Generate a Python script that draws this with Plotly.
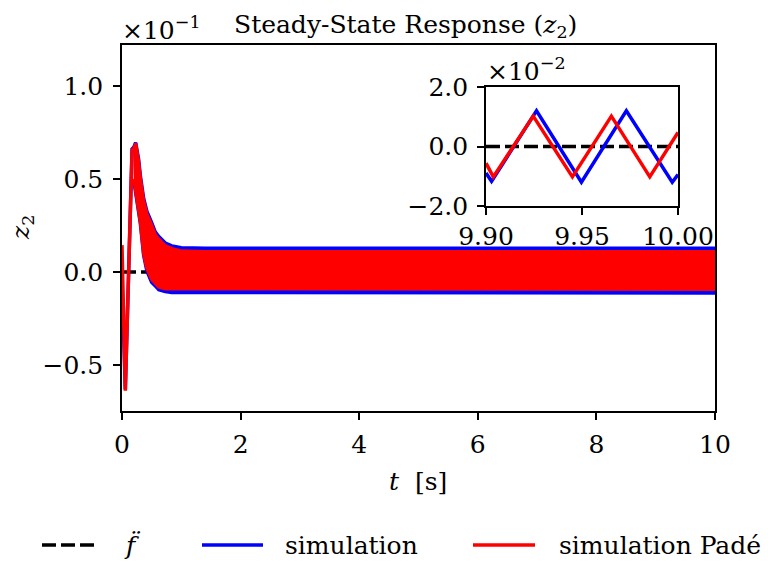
import numpy as np
import plotly.graph_objects as go

SCALE_MAIN = 1e-1
SCALE_INSET = 1e-2

# reference f'' (zero)
ref_t = [0.0, 10.0]
ref_z = [0.0, 0.0]

# initial transient (physical units)
blue_tr_t = [0.0, 0.056, 0.17, 0.20]
blue_tr_z = [-0.0050, -0.0630, 0.0660, 0.0670]
red_tr_t = [0.0, 0.056, 0.17, 0.20]
red_tr_z = [0.0144, -0.0638, 0.0655, 0.0660]

# oscillation envelopes (physical units)
env_t = [0.20, 0.23, 0.28, 0.31, 0.365, 0.42, 0.50, 0.56, 0.62, 0.73, 0.84, 1.0, 1.4, 10.0]
blue_up = [0.0670, 0.0695, 0.0605, 0.0515, 0.0395, 0.0325, 0.0265, 0.0215, 0.0190, 0.0155, 0.0140, 0.0130, 0.0127, 0.0127]
blue_lo = [0.0490, 0.0410, 0.0320, 0.0260, 0.0090, 0.0005, -0.0055, -0.0075, -0.0095, -0.0105, -0.0110, -0.0113, -0.0113, -0.0113]
red_up = [0.0660, 0.0690, 0.0590, 0.0500, 0.0380, 0.0310, 0.0250, 0.0200, 0.0175, 0.0140, 0.0125, 0.0112, 0.0108, 0.0108]
red_lo = [0.0500, 0.0420, 0.0330, 0.0270, 0.0100, 0.0020, -0.0040, -0.0060, -0.0080, -0.0090, -0.0093, -0.0093, -0.0093, -0.0093]

# steady-state detail (inset), physical units
inset_ref_t = [9.90, 10.00]
inset_ref_z = [0.0, 0.0]
blue_in_t = [9.900, 9.9029, 9.9263, 9.9497, 9.9731, 9.9970, 10.000]
blue_in_z = [-0.0089, -0.0117, 0.0120, -0.0120, 0.0120, -0.0120, -0.0094]
red_in_t = [9.900, 9.9038, 9.9246, 9.9450, 9.9653, 9.9853, 10.000]
red_in_z = [-0.0056, -0.0102, 0.0102, -0.0102, 0.0102, -0.0102, 0.0047]

main_xticks = [0, 2, 4, 6, 8, 10]
main_yticks = [-0.5, 0.0, 0.5, 1.0]
inset_xticks = [9.90, 9.95, 10.00]
inset_yticks = [-2.0, 0.0, 2.0]

BLUE = "#0000ff"
RED = "#ff0000"
FONT = "DejaVu Serif, Liberation Serif, serif"
FS = 25
LW = 3.5

fig = go.Figure()

def band(t, up, lo):
    xs = list(t) + list(t)[::-1]
    ys = list(np.array(up) / SCALE_MAIN) + list(np.array(lo)[::-1] / SCALE_MAIN)
    return xs, ys

# main axes
fig.add_trace(go.Scatter(x=ref_t, y=np.array(ref_z) / SCALE_MAIN, mode="lines",
                         line=dict(color="black", width=LW, dash="14px,5px"),
                         showlegend=False, xaxis="x", yaxis="y"))
fig.add_trace(go.Scatter(x=blue_tr_t, y=np.array(blue_tr_z) / SCALE_MAIN, mode="lines",
                         line=dict(color=BLUE, width=LW), showlegend=False))
bx, by = band(env_t, blue_up, blue_lo)
fig.add_trace(go.Scatter(x=bx, y=by, mode="lines", fill="toself", fillcolor=BLUE,
                         line=dict(color=BLUE, width=LW), showlegend=False))
fig.add_trace(go.Scatter(x=red_tr_t, y=np.array(red_tr_z) / SCALE_MAIN, mode="lines",
                         line=dict(color=RED, width=LW), showlegend=False))
rx, ry = band(env_t, red_up, red_lo)
fig.add_trace(go.Scatter(x=rx, y=ry, mode="lines", fill="toself", fillcolor=RED,
                         line=dict(color=RED, width=LW), showlegend=False))

# inset
fig.add_trace(go.Scatter(x=inset_ref_t, y=np.array(inset_ref_z) / SCALE_INSET, mode="lines",
                         line=dict(color="black", width=LW, dash="14px,5px"),
                         showlegend=False, xaxis="x2", yaxis="y2"))
fig.add_trace(go.Scatter(x=blue_in_t, y=np.array(blue_in_z) / SCALE_INSET, mode="lines",
                         line=dict(color=BLUE, width=LW), showlegend=False, xaxis="x2", yaxis="y2"))
fig.add_trace(go.Scatter(x=red_in_t, y=np.array(red_in_z) / SCALE_INSET, mode="lines",
                         line=dict(color=RED, width=LW), showlegend=False, xaxis="x2", yaxis="y2"))

ML, MR, MT, MB = 122, 53, 45, 154
W, H = 768, 565
PW, PH = W - ML - MR, H - MT - MB

def px(xp):
    return (xp - ML) / PW

def py(yp):
    return (H - MB - yp) / PH

axis_common = dict(showline=True, linecolor="black", linewidth=1.6, mirror=True,
                   ticks="outside", ticklen=7, tickwidth=1.6, tickcolor="black",
                   showgrid=False, zeroline=False,
                   tickfont=dict(family=FONT, size=FS, color="black"))

fig.update_layout(
    width=W, height=H,
    margin=dict(l=ML, r=MR, t=MT, b=MB, pad=0),
    paper_bgcolor="white", plot_bgcolor="white",
    showlegend=False,
    xaxis=dict(range=[0, 10], tickvals=main_xticks, ticktext=[str(v) for v in main_xticks],
               domain=[0, 1], anchor="y", ticklabelstandoff=3, **axis_common),
    yaxis=dict(range=[-0.747, 1.219], tickvals=main_yticks,
               ticktext=[("\u2212" if v < 0 else "") + f"{abs(v):.1f}" for v in main_yticks],
               domain=[0, 1], anchor="x", ticklabelstandoff=5, **axis_common),
    xaxis2=dict(range=[9.90, 10.00], tickvals=inset_xticks,
                ticktext=[f"{v:.2f}" for v in inset_xticks],
                domain=[px(486), px(678)], anchor="y2", **axis_common),
    yaxis2=dict(range=[-2.0, 2.0], tickvals=inset_yticks,
                ticktext=[("\u2212" if v < 0 else "") + f"{abs(v):.1f}" for v in inset_yticks],
                domain=[py(206), py(87)], anchor="x2", ticklabelstandoff=4, **axis_common),
)

ann = []
def add_text(text, x, y, xanchor="center", yanchor="middle", size=FS, angle=0):
    ann.append(dict(text=text, x=px(x), y=py(y), xref="paper", yref="paper",
                    xanchor=xanchor, yanchor=yanchor, showarrow=False, textangle=angle,
                    font=dict(family=FONT, size=size, color="black")))

add_text("Steady-State Response (<i>z</i><sub>2</sub>)", 405, 26)
add_text("\u00d710<sup>\u22121</sup>", 120, 28, xanchor="left")
add_text("\u00d710<sup>\u22122</sup>", 485, 70, xanchor="left")
add_text("<i>t</i>  [s]", 418, 481)
add_text("<i>z</i><sub>2</sub>", 22, 228, angle=-90)

# legend
shapes = []
legend_y = 545
shapes.append(dict(type="line", xref="paper", yref="paper", x0=px(42), x1=px(98),
                   y0=py(legend_y), y1=py(legend_y),
                   line=dict(color="black", width=LW, dash="14px,5px")))
shapes.append(dict(type="line", xref="paper", yref="paper", x0=px(202), x1=px(263),
                   y0=py(legend_y), y1=py(legend_y), line=dict(color=BLUE, width=LW)))
shapes.append(dict(type="line", xref="paper", yref="paper", x0=px(473), x1=px(535),
                   y0=py(legend_y), y1=py(legend_y), line=dict(color=RED, width=LW)))
add_text("<i>f\u0308</i>", 122, legend_y, xanchor="left")
add_text("simulation", 283, legend_y, xanchor="left")
add_text("simulation Pad\u00e9", 557, legend_y, xanchor="left")

fig.update_layout(annotations=ann, shapes=shapes)

fig.write_html("out.html")
